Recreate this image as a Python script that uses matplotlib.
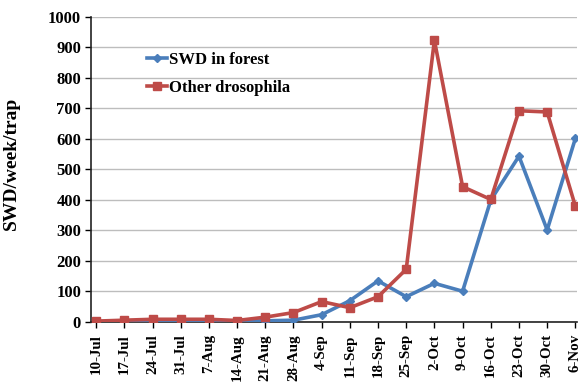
import matplotlib
matplotlib.use("Agg")
import matplotlib.pyplot as plt

dates = ["10-Jul", "17-Jul", "24-Jul", "31-Jul", "7-Aug", "14-Aug", "21-Aug", "28-Aug",
         "4-Sep", "11-Sep", "18-Sep", "25-Sep", "2-Oct", "9-Oct", "16-Oct", "23-Oct",
         "30-Oct", "6-Nov"]
swd_forest = [0, 2, 3, 3, 3, 2, 3, 5, 23, 69, 134, 82, 126, 100, 399, 543, 301, 601]
other_dros = [2, 5, 8, 8, 8, 4, 15, 30, 66, 46, 82, 172, 923, 443, 401, 692, 688, 379]
yticks = [0, 100, 200, 300, 400, 500, 600, 700, 800, 900, 1000]

blue = "#4A7EBB"
red = "#BE4B48"
serif = ["Liberation Serif", "DejaVu Serif"]

fig = plt.figure(figsize=(5.82, 3.83), dpi=100)
ax = fig.add_axes([0.156, 0.160, 0.835, 0.796])

x = list(range(len(dates)))
ax.plot(x, swd_forest, color=blue, lw=2.6, marker="D", ms=4.5, mfc=blue, mec=blue,
        label="SWD in forest", zorder=3)
ax.plot(x, other_dros, color=red, lw=2.6, marker="s", ms=6.0, mfc=red, mec=red,
        label="Other drosophila", zorder=4)

ax.set_xlim(-0.19, 17.05)
ax.set_ylim(0, 1000)
ax.set_yticks(yticks)
ax.set_yticklabels([str(v) for v in yticks], fontfamily=serif, fontweight="bold", fontsize=12)
ax.set_xticks(x)
ax.set_xticklabels(dates, rotation=90, fontfamily=serif, fontweight="bold", fontsize=10.8)
ax.grid(axis="y", color="#BDBDBD", lw=1.0)
ax.set_axisbelow(True)
for s in ["top", "right"]:
    ax.spines[s].set_visible(False)
ax.spines["left"].set_color("#222222")
ax.spines["bottom"].set_color("#222222")
ax.spines["left"].set_linewidth(1.2)
ax.spines["bottom"].set_linewidth(1.2)
ax.tick_params(axis="y", length=4, width=1, pad=3)
ax.tick_params(axis="x", length=4, width=1, pad=5)
ax.set_ylabel("SWD/week/trap", fontfamily=serif, fontweight="bold", fontsize=14)
ax.yaxis.set_label_coords(-0.146, 0.52)

leg = ax.legend(loc="upper left", bbox_to_anchor=(0.085, 0.935), frameon=False,
                prop={"family": serif, "weight": "bold", "size": 12},
                handlelength=1.2, handletextpad=0.1, labelspacing=0.75)

fig.savefig("out.png", dpi=100)
